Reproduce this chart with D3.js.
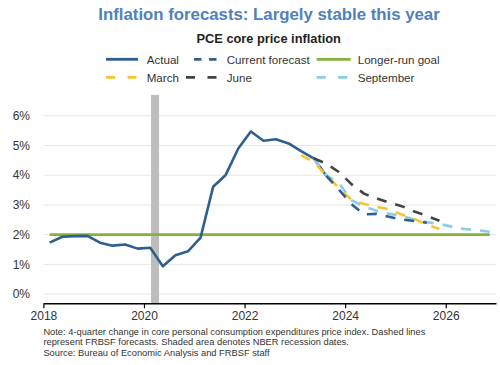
<!DOCTYPE html>
<html><head><meta charset="utf-8">
<script src="https://cdn.jsdelivr.net/npm/d3@7"></script>
<style>
html,body{margin:0;padding:0;background:#fff;}
svg{display:block;font-family:"Liberation Sans",Arial,sans-serif;}
</style></head>
<body><svg id="chart" width="500" height="365"></svg>
<script>
// ---- data ----
const actualQuarters = ["2018Q1","2018Q2","2018Q3","2018Q4","2019Q1","2019Q2","2019Q3","2019Q4",
  "2020Q1","2020Q2","2020Q3","2020Q4","2021Q1","2021Q2","2021Q3","2021Q4",
  "2022Q1","2022Q2","2022Q3","2022Q4","2023Q1","2023Q2","2023Q3"];
const actualValues = [1.73,1.93,1.95,1.96,1.73,1.63,1.67,1.53,
  1.56,0.94,1.31,1.44,1.90,3.61,4.01,4.90,
  5.47,5.16,5.21,5.07,4.81,4.57,3.98];

const currentQuarters = ["2023Q3","2023Q4","2024Q1","2024Q2","2024Q3","2024Q4","2025Q1","2025Q2","2025Q3"];
const currentValues = [3.98,3.52,3.03,2.68,2.70,2.60,2.51,2.46,2.40];

const marchQuarters = ["2023Q1","2023Q2","2023Q3","2023Q4","2024Q1","2024Q2","2024Q3","2024Q4","2025Q1","2025Q2","2025Q3","2025Q4"];
const marchValues = [4.68,4.44,4.00,3.57,3.18,3.03,2.94,2.85,2.68,2.53,2.34,2.19];

const juneQuarters = ["2023Q2","2023Q3","2023Q4","2024Q1","2024Q2","2024Q3","2024Q4","2025Q1","2025Q2","2025Q3","2025Q4"];
const juneValues = [4.57,4.39,4.11,3.70,3.38,3.22,3.08,2.96,2.78,2.63,2.47];

const septQuarters = ["2023Q2","2023Q3","2023Q4","2024Q1","2024Q2","2024Q3","2024Q4","2025Q1","2025Q2","2025Q3","2025Q4","2026Q1","2026Q2","2026Q3","2026Q4"];
const septValues = [4.57,4.00,3.74,3.16,2.95,2.80,2.70,2.63,2.51,2.42,2.36,2.27,2.19,2.15,2.10];

const goalQuarters = ["2018Q1","2026Q4"];
const goalValues = [2,2];

const recession = [2020.14, 2020.30];
const yTicks = [0,1,2,3,4,5,6];
const xTicks = [2018,2020,2022,2024,2026];

const title = "Inflation forecasts: Largely stable this year";
const subtitle = "PCE core price inflation";
const notes = ["Note: 4-quarter change in core personal consumption expenditures price index. Dashed lines",
  "represent FRBSF forecasts. Shaded area denotes NBER recession dates.",
  "Source: Bureau of Economic Analysis and FRBSF staff"];

// ---- drawing ----
const q2x = s => +s.slice(0,4) + (+s.slice(5) - 0.5)/4;
const svg = d3.select("#chart");
const x = d3.scaleLinear().domain([2018, 2027]).range([43.4, 496]);
const y = d3.scaleLinear().domain([-0.3, 6.7]).range([303, 95]);

svg.append("rect").attr("width",500).attr("height",365).attr("fill","#fff");

svg.append("text").attr("x",269).attr("y",20).attr("text-anchor","middle")
  .attr("font-size",16.8).attr("font-weight","bold").attr("fill","#4f81bd").text(title);
svg.append("text").attr("x",268.7).attr("y",42.5).attr("text-anchor","middle")
  .attr("font-size",12.8).attr("font-weight","bold").attr("fill","#222").text(subtitle);

// gridlines
svg.append("g").selectAll("line").data(yTicks).join("line")
  .attr("x1",43.4).attr("x2",496).attr("y1",d=>y(d)).attr("y2",d=>y(d))
  .attr("stroke","#e6e6e6").attr("stroke-width",1);
svg.append("g").selectAll("text").data(yTicks).join("text")
  .attr("x",30).attr("y",d=>y(d)).attr("dy","0.35em").attr("text-anchor","end")
  .attr("font-size",12).attr("fill","#333").text(d=>d+"%");

// recession
svg.append("rect").attr("x",x(recession[0])).attr("width",x(recession[1])-x(recession[0]))
  .attr("y",y(6.7)).attr("height",y(-0.3)-y(6.7)).attr("fill","#bdbdbd");

const line = d3.line().x(d=>x(d[0])).y(d=>y(d[1]));
function series(qs, vs, color, dash, w){
  const pts = qs.map((q,i)=>[q2x(q), vs[i]]);
  svg.append("path").datum(pts).attr("d",line).attr("fill","none")
    .attr("stroke",color).attr("stroke-width",w||2.6)
    .attr("stroke-dasharray",dash||null).attr("stroke-linejoin","round");
}
series(goalQuarters, goalValues, "#86b13d", null, 2.8);
series(actualQuarters, actualValues, "#2f5f8f", null, 2.6);
series(septQuarters, septValues, "#8ccbe6", "10,9");
series(marchQuarters, marchValues, "#f9c330", "10,9");
series(juneQuarters, juneValues, "#444444", "10,9");
series(currentQuarters, currentValues, "#2f5f8f", "10,9");

// x axis
const ax = svg.append("g").attr("transform","translate(0,303.3)")
  .call(d3.axisBottom(x).tickValues(xTicks).tickFormat(d3.format("d")).tickSize(5).tickSizeOuter(0));
ax.select(".domain").attr("stroke","#000").attr("stroke-width",1.5);
ax.selectAll(".tick line").attr("stroke","#000").attr("stroke-width",1.2);
ax.selectAll(".tick text").attr("font-size",12).attr("fill","#333")
  .attr("font-family","Liberation Sans, Arial, sans-serif");

// legend
const legend = [
  {label:"Actual", color:"#2f5f8f", dash:null, lx:106, len:32, tx:146.7, ty:63.5},
  {label:"Current forecast", color:"#2f5f8f", dash:"7.5,7.5", lx:194, len:23, tx:226.7, ty:63.5},
  {label:"Longer-run goal", color:"#86b13d", dash:null, lx:316.7, len:34, tx:357.7, ty:63.5},
  {label:"March", color:"#f9c330", dash:"9,12.5", lx:106, len:31, tx:146.7, ty:81.5},
  {label:"June", color:"#444444", dash:"9,12.5", lx:186, len:31, tx:226.7, ty:81.5},
  {label:"September", color:"#8ccbe6", dash:"9,12.5", lx:316.7, len:32, tx:357.7, ty:81.5}
];
const lg = svg.append("g");
lg.selectAll("line").data(legend).join("line")
  .attr("x1",d=>d.lx).attr("x2",d=>d.lx+d.len).attr("y1",d=>d.ty-4.2).attr("y2",d=>d.ty-4.2)
  .attr("stroke",d=>d.color).attr("stroke-width",2.8).attr("stroke-dasharray",d=>d.dash);
lg.selectAll("text").data(legend).join("text")
  .attr("x",d=>d.tx).attr("y",d=>d.ty).attr("font-size",11.6).attr("fill","#333").text(d=>d.label);

// notes
svg.append("g").selectAll("text").data(notes).join("text")
  .attr("x",43.4).attr("y",(d,i)=>335+i*10.3).attr("font-size",9.3).attr("fill","#333").text(d=>d);
</script></body></html>
